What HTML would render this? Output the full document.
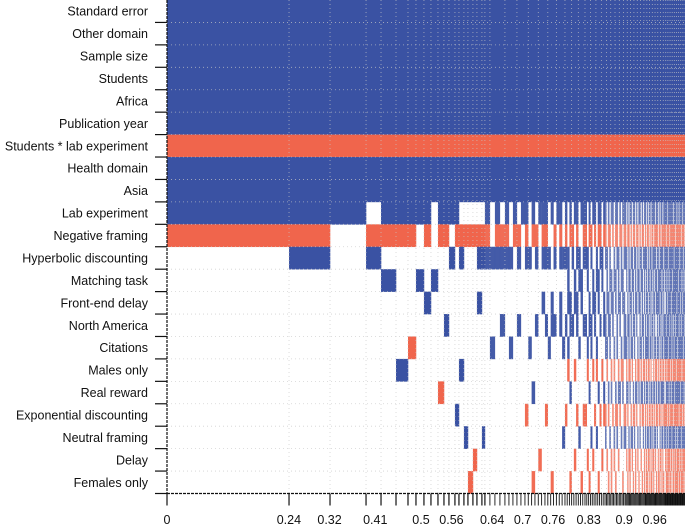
<!DOCTYPE html>
<html><head><meta charset="utf-8">
<style>
html,body{margin:0;padding:0;background:#fff;}
svg{display:block;font-family:"Liberation Sans",Arial,sans-serif;}
</style></head>
<body>
<svg id="chart" width="685" height="528" viewBox="0 0 685 528" xmlns="http://www.w3.org/2000/svg"></svg>
<script>
const variables = ["Standard error","Other domain","Sample size","Students","Africa","Publication year","Students * lab experiment","Health domain","Asia","Lab experiment","Negative framing","Hyperbolic discounting","Matching task","Front-end delay","North America","Citations","Males only","Real reward","Exponential discounting","Neutral framing","Delay","Females only"];
const baseSigns = "bbbbbbrbb";
const modelProbs = [0.2402,0.0807,0.0709,0.0295,0.0295,0.0236,0.0157,0.0157,0.0138,0.0138,0.0118,0.0098,0.0118,0.0079,0.0098,0.0079,0.0098,0.0079,0.0098,0.0059];
const modelSigns = ["br...........","brb..........","b............",".rb..........","br.b.........","br.....b.....","br....r......","b..b.........","br..b........","...b.........","br......r....","br...b.......","b.b..........","br.......b...",".rb....b.....",".r........b..",".r..........r",".r.........r.",".rb.b........",".rb.......b.."];
const tailProbs = [0.0394,0.0394,0.0394,0.0394,0.0394,0.0394,0.0394,0.0394,0.0394,0.0394];
const tailCounts = [4,5,6,7,9,11,14,18,22,28];
const tailSigns = "brbbbbbrbrbrr";
const tailDensity = [
 [0.4,0.7,0.8,0.25,0.1,0.1,0.25,0,0,0.1,0,0,0],
 [0.6,0.6,0.6,0.15,0.2,0.1,0.1,0.1,0,0,0.1,0,0],
 [0.6,0.7,0.7,0.2,0.15,0.2,0.1,0.1,0.3,0.15,0.1,0.15,0.1],
 [0.6,0.5,0.7,0.2,0.3,0.6,0.15,0.05,0.1,0.2,0.1,0,0.05],
 [0.6,0.6,0.7,0.5,0.6,0.5,0.25,0.35,0.2,0.3,0.15,0.15,0.15],
 [0.6,0.65,0.6,0.5,0.5,0.5,0.3,0.5,0.35,0.35,0.25,0.2,0.2],
 [0.6,0.7,0.6,0.6,0.6,0.5,0.5,0.5,0.45,0.45,0.4,0.35,0.3],
 [0.6,0.7,0.65,0.6,0.55,0.55,0.6,0.55,0.55,0.5,0.5,0.45,0.4],
 [0.65,0.75,0.7,0.65,0.65,0.6,0.7,0.6,0.65,0.6,0.6,0.55,0.55],
 [0.8,0.85,0.85,0.8,0.8,0.75,0.8,0.8,0.8,0.8,0.8,0.7,0.7]
];
const tickValues = [0,0.24,0.32,0.41,0.5,0.56,0.64,0.7,0.76,0.83,0.9,0.96];
const tickLabels = ["0","0.24","0.32","0.41","0.5","0.56","0.64","0.7","0.76","0.83","0.9","0.96"];

const NS="http://www.w3.org/2000/svg";
const svg=document.getElementById('chart');
const X0=167, PX=508, Y0=0, Y1=493.5;
const nRows=variables.length, rowH=(Y1-Y0)/nRows;
const xs=v=>X0+v*PX;
const ys=i=>Y0+i*rowH;
const BLUE="#3a52a3", RED="#f0654c";
function mk(tag,attrs,parent){const e=document.createElementNS(NS,tag);for(const k in attrs)e.setAttribute(k,attrs[k]);(parent||svg).appendChild(e);return e;}

const gMarks=mk('g',{});


const bounds=[0];
let cum=0;
modelProbs.forEach((p,m)=>{
  const signs=baseSigns+modelSigns[m];
  for(let r=0;r<nRows;r++){
    const s=signs[r];
    if(s==='.')continue;
    const el=mk('rect',{x:xs(cum),y:ys(r),width:xs(cum+p)-xs(cum)+0.3,height:rowH+0.3,fill:s==='b'?BLUE:RED},gMarks);
    
    
  }
  cum+=p;bounds.push(cum);
});
const tailBounds=[];
const PHI=0.6180339887;
tailProbs.forEach((p,t)=>{
  const n=tailCounts[t], w=p/n;
  for(let r=0;r<nRows;r++){
    if(r<9){
      const el=mk('rect',{x:xs(cum),y:ys(r),width:xs(cum+p)-xs(cum)+0.3,height:rowH+0.3,fill:baseSigns[r]==='b'?BLUE:RED},gMarks);
      
      
      continue;
    }
    const d=tailDensity[t][r-9], s=tailSigns[r-9];
    if(d<=0)continue;
    for(let k=0;k<n;k++){
      const frac=((k+r*0.37)*PHI)%1;
      if(frac>=d)continue;
      const x1=xs(cum+k*w);
      const el=mk('rect',{x:x1,y:ys(r),width:xs(cum+(k+1)*w)-x1+0.2,height:rowH+0.3,fill:s==='b'?BLUE:RED,'fill-opacity':t>=6?0.75:0.95},gMarks);
      
      
    }
  }
  for(let k=1;k<=n;k++)tailBounds.push(cum+p*k/n);
  cum+=p;
});

const grid=mk('g',{stroke:'#c8c8c8','stroke-width':0.8,'stroke-dasharray':'1 3',opacity:0.8});


for(let r=1;r<nRows;r++)mk('line',{x1:X0,x2:685,y1:ys(r),y2:ys(r)},grid);
bounds.concat(tailBounds.filter((b,i)=>i%3===0)).forEach(b=>mk('line',{x1:xs(b),x2:xs(b),y1:0,y2:Y1},grid));

const ax=mk('g',{stroke:'#111','stroke-width':1.2});


mk('line',{x1:X0,x2:X0,y1:0,y2:Y1,'stroke-dasharray':'3 1'},ax);
mk('line',{x1:X0,x2:685,y1:Y1,y2:Y1,'stroke-dasharray':'3 1'},ax);
for(let r=1;r<=nRows;r++)mk('line',{x1:155,x2:X0,y1:ys(r),y2:ys(r)},ax);
bounds.forEach(b=>mk('line',{x1:xs(b),x2:xs(b),y1:Y1,y2:Y1+12},ax));
tailBounds.forEach(b=>mk('line',{x1:xs(b),x2:xs(b),y1:Y1,y2:Y1+12,'stroke-width':0.9},ax));

variables.forEach((v,i)=>{
  const t=mk('text',{x:148,y:ys(i)+rowH/2+4.5,'text-anchor':'end','font-size':12.5,fill:'#111'});
  t.textContent=v;
  
  
});
tickValues.forEach((v,i)=>{
  const t=mk('text',{x:xs(v),y:524,'text-anchor':'middle','font-size':12.5,fill:'#111'});
  t.textContent=tickLabels[i];
  
  
});
</script>
</body></html>
